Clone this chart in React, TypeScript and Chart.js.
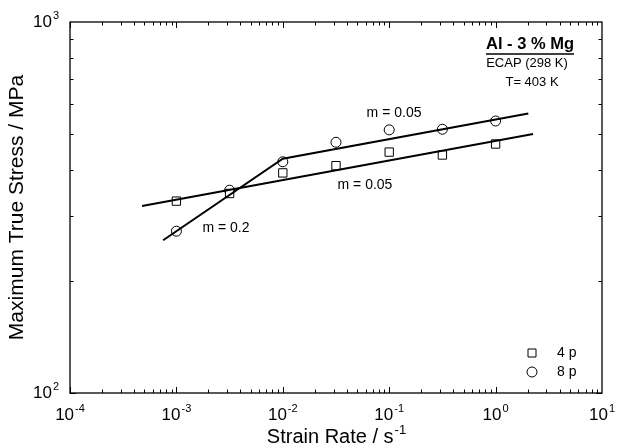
import React, { useEffect, useRef } from 'react';
import { Chart, registerables } from 'chart.js';

Chart.register(...registerables);

// ---- data ----
const strainRates = [1e-3, 3.162e-3, 1e-2, 3.162e-2, 1e-1, 3.162e-1, 1];
const stress4p = [329, 345, 392, 410, 446, 438, 469];
const stress8p = [273, 352, 420, 474, 512, 514, 541];

const fit4pX = [4.75e-4, 2.25];
const fit4pY = [319, 499];
const fit8pX = [7.5e-4, 1e-2, 2.03];
const fit8pY = [258, 428, 567];

const xTickExponents = [-4, -3, -2, -1, 0, 1];
const yTickExponents = [2, 3];
const legendLabels = ['4 p', '8 p'];
const slopeTexts = ['m = 0.05', 'm = 0.05', 'm = 0.2'];
const slopeAtX = [0.111, 0.0592, 2.92e-3];
const slopeAtY = [568, 364, 278];
const infoLines = ['Al - 3 % Mg', 'ECAP (298 K)', 'T= 403 K'];

const FONT = '"Liberation Sans", Arial, Helvetica, sans-serif';

function drawPow(ctx: CanvasRenderingContext2D, exp: number, x: number, y: number, align: 'center' | 'right', size: number) {
  const base = '10';
  const sup = String(exp);
  const supSize = Math.round(size * 0.62);
  ctx.font = `${size}px ${FONT}`;
  const wb = ctx.measureText(base).width;
  ctx.font = `${supSize}px ${FONT}`;
  const ws = ctx.measureText(sup).width;
  const total = wb + ws + 1;
  const left = align === 'center' ? x - total / 2 : x - total;
  ctx.textAlign = 'left';
  ctx.textBaseline = 'middle';
  ctx.font = `${size}px ${FONT}`;
  ctx.fillText(base, left, y);
  ctx.font = `${supSize}px ${FONT}`;
  ctx.fillText(sup, left + wb + 1, y - size * 0.38);
}

const decorPlugin = {
  id: 'decor',
  afterDraw(chart: any) {
    const ctx: CanvasRenderingContext2D = chart.ctx;
    const ca = chart.chartArea;
    const xs = chart.scales.x;
    const ys = chart.scales.y;
    ctx.save();
    ctx.fillStyle = '#000';
    ctx.strokeStyle = '#000';

    // ticks (inward) on all sides
    ctx.lineWidth = 1;
    ctx.beginPath();
    for (let e = xTickExponents[0]; e < xTickExponents[xTickExponents.length - 1]; e++) {
      for (let m = 1; m <= 9; m++) {
        const v = m * Math.pow(10, e);
        const px = Math.round(xs.getPixelForValue(v)) + 0.5;
        const len = m === 1 ? 6 : 3.5;
        ctx.moveTo(px, ca.bottom);
        ctx.lineTo(px, ca.bottom - len);
        ctx.moveTo(px, ca.top);
        ctx.lineTo(px, ca.top + len);
      }
    }
    for (let e = yTickExponents[0]; e < yTickExponents[yTickExponents.length - 1]; e++) {
      for (let m = 1; m <= 9; m++) {
        const v = m * Math.pow(10, e);
        const py = Math.round(ys.getPixelForValue(v)) + 0.5;
        const len = m === 1 ? 6 : 3.5;
        ctx.moveTo(ca.left, py);
        ctx.lineTo(ca.left + len, py);
        ctx.moveTo(ca.right, py);
        ctx.lineTo(ca.right - len, py);
      }
    }
    ctx.stroke();

    // frame
    ctx.lineWidth = 1.3;
    ctx.strokeRect(ca.left, ca.top, ca.right - ca.left, ca.bottom - ca.top);

    // tick labels
    xTickExponents.forEach((e) => {
      const px = xs.getPixelForValue(Math.pow(10, e));
      drawPow(ctx, e, px, ca.bottom + 22, 'center', 17);
    });
    yTickExponents.forEach((e) => {
      const py = ys.getPixelForValue(Math.pow(10, e));
      drawPow(ctx, e, ca.left - 11, py, 'right', 17);
    });

    // axis titles
    ctx.textBaseline = 'middle';
    ctx.font = `20px ${FONT}`;
    const xt = 'Strain Rate / s';
    const wx = ctx.measureText(xt).width;
    ctx.font = `13px ${FONT}`;
    const wsup = ctx.measureText('-1').width;
    const cx = (ca.left + ca.right) / 2;
    const startX = cx - (wx + wsup) / 2;
    ctx.textAlign = 'left';
    ctx.font = `20px ${FONT}`;
    ctx.fillText(xt, startX, 437);
    ctx.font = `13px ${FONT}`;
    ctx.fillText('-1', startX + wx + 1, 430);

    ctx.save();
    ctx.translate(17, (ca.top + ca.bottom) / 2);
    ctx.rotate(-Math.PI / 2);
    ctx.textAlign = 'center';
    ctx.font = `21px ${FONT}`;
    ctx.fillText('Maximum True Stress / MPa', 0, 0);
    ctx.restore();

    // slope annotations
    ctx.textAlign = 'center';
    ctx.font = `14px ${FONT}`;
    slopeTexts.forEach((t, i) => {
      ctx.fillText(t, xs.getPixelForValue(slopeAtX[i]), ys.getPixelForValue(slopeAtY[i]));
    });

    // info box
    const ix = ca.right - 72;
    ctx.font = `bold 16.5px ${FONT}`;
    ctx.fillText(infoLines[0], ix, ca.top + 22);
    const w0 = ctx.measureText(infoLines[0]).width;
    ctx.lineWidth = 1.5;
    ctx.beginPath();
    ctx.moveTo(ix - w0 / 2, ca.top + 32);
    ctx.lineTo(ix + w0 / 2, ca.top + 32);
    ctx.stroke();
    ctx.font = `13px ${FONT}`;
    ctx.fillText(infoLines[1], ix - 3, ca.top + 41);
    ctx.fillText(infoLines[2], ix + 2, ca.top + 60);

    // legend
    const mx = ca.right - 70;
    const ly = [ca.bottom - 40, ca.bottom - 21];
    ctx.lineWidth = 1;
    ctx.fillStyle = '#fff';
    ctx.beginPath();
    ctx.rect(mx - 4, ly[0] - 4, 8, 8);
    ctx.fill();
    ctx.stroke();
    ctx.beginPath();
    ctx.arc(mx, ly[1], 5, 0, Math.PI * 2);
    ctx.fill();
    ctx.stroke();
    ctx.fillStyle = '#000';
    ctx.textAlign = 'left';
    ctx.font = `14px ${FONT}`;
    ctx.fillText(legendLabels[0], mx + 25, ly[0]);
    ctx.fillText(legendLabels[1], mx + 25, ly[1]);

    ctx.restore();
  },
};

export default function App() {
  const ref = useRef<HTMLCanvasElement | null>(null);
  useEffect(() => {
    document.body.style.margin = '0';
    if (!ref.current) return;
    const pts = (xs: number[], ys: number[]) => xs.map((x, i) => ({ x, y: ys[i] }));
    const chart = new Chart(ref.current, {
      type: 'scatter',
      data: {
        datasets: [
          {
            label: 'fit 4p',
            data: pts(fit4pX, fit4pY),
            showLine: true,
            borderColor: '#000',
            borderWidth: 2,
            pointRadius: 0,
          },
          {
            label: 'fit 8p',
            data: pts(fit8pX, fit8pY),
            showLine: true,
            borderColor: '#000',
            borderWidth: 2,
            pointRadius: 0,
          },
          {
            label: legendLabels[0],
            data: pts(strainRates, stress4p),
            pointStyle: 'rect',
            pointRadius: 5.9,
            backgroundColor: '#fff',
            borderColor: '#000',
            borderWidth: 1,
          },
          {
            label: legendLabels[1],
            data: pts(strainRates, stress8p),
            pointStyle: 'circle',
            pointRadius: 5,
            backgroundColor: '#fff',
            borderColor: '#000',
            borderWidth: 1,
          },
        ],
      } as any,
      options: {
        animation: false,
        responsive: true,
        maintainAspectRatio: false,
        layout: { padding: { left: 70, top: 22, right: 15, bottom: 55 } },
        plugins: { legend: { display: false }, tooltip: { enabled: false } },
        scales: {
          x: { type: 'logarithmic', min: 1e-4, max: 10, display: false },
          y: { type: 'logarithmic', min: 100, max: 1000, display: false },
        },
      },
      plugins: [decorPlugin],
    });
    return () => chart.destroy();
  }, []);
  return (
    <div style={{ width: 617, height: 448, position: 'relative', background: '#fff' }}>
      <canvas ref={ref} />
    </div>
  );
}
